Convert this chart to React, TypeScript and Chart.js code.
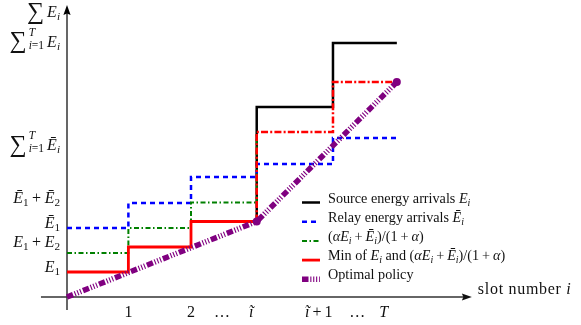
import { useEffect, useRef } from "react";
import { Chart, registerables } from "chart.js";

Chart.register(...registerables);

type Seg = { t: string; it?: boolean; sc?: number; dy?: number; gap?: number; stack?: boolean };

// ---------------- data ----------------
const relaySlots = [0, 0.99, 2, 3.06, 4.29, 5.32];
const relayLevels = [6.9, 9.4, 12.0, 13.3, 15.9, 15.9];
const mixSlots = [0, 0.99, 2, 3.06];
const mixLevels = [4.4, 6.9, 9.45, 16.5];
const minSlots = [0, 0.99, 2, 3.06];
const minLevels = [2.5, 5.0, 7.55, 7.55];
const upperSlots = [3.06, 3.06, 4.29, 5.32];
const sourceLevels = [7.55, 19.0, 25.4, 25.4];
const minUpperLevels = [7.55, 16.5, 21.5, 21.5];
const optimalSlots = [0, 3.06, 5.32];
const optimalLevels = [0, 7.55, 21.5];
const optimalDots = [0, 4, 4];

// ---------------- text helpers ----------------
const subI: Seg = { t: "i", it: true, sc: 0.7, dy: 3 };
const sub1: Seg = { t: "1", sc: 0.7, dy: 3 };
const sub2: Seg = { t: "2", sc: 0.7, dy: 3 };
const sumLimits: Seg[] = [
  { t: "∑", sc: 1.5, dy: 1.5 },
  { t: "T", it: true, sc: 0.72, dy: -11, gap: 2, stack: true },
  { t: "i", it: true, sc: 0.72, dy: 2 },
  { t: "=1", sc: 0.72, dy: 2 },
];

const xTickPos = [0.99, 2, 2.5, 2.97, 4.06, 4.68, 5.11];
const xTickLabels: Seg[][] = [
  [{ t: "1" }],
  [{ t: "2" }],
  [{ t: "…" }],
  [{ t: "ĩ", it: true }],
  [{ t: "ĩ", it: true }, { t: "+", gap: 3 }, { t: "1", gap: 3 }],
  [{ t: "…" }],
  [{ t: "T", it: true }],
];

const yTickPos = [2.5, 5.0, 6.9, 9.4, 14.7, 25.05, 28.0];
const yTickLabels: Seg[][] = [
  [{ t: "E", it: true }, sub1],
  [{ t: "E", it: true }, sub1, { t: "+", gap: 3.5 }, { t: "E", it: true, gap: 3.5 }, sub2],
  [{ t: "Ē", it: true }, sub1],
  [{ t: "Ē", it: true }, sub1, { t: "+", gap: 3.5 }, { t: "Ē", it: true, gap: 3.5 }, sub2],
  [...sumLimits, { t: "Ē", it: true, gap: 3 }, subI],
  [...sumLimits, { t: "E", it: true, gap: 3 }, subI],
  [{ t: "∑", sc: 1.5, dy: 1.5 }, { t: "E", it: true, gap: 3 }, subI],
];

const xAxisTitle: Seg[] = [{ t: "slot number " }, { t: "i", it: true }];

const mixLabel: Seg[] = [
  { t: "(" },
  { t: "αE", it: true },
  subI,
  { t: "+", gap: 3 },
  { t: "Ē", it: true, gap: 3 },
  subI,
  { t: ")/(1" },
  { t: "+", gap: 3 },
  { t: "α", it: true, gap: 3 },
  { t: ")" },
];
const legendLabels: Seg[][] = [
  [{ t: "Source energy arrivals " }, { t: "E", it: true }, subI],
  [{ t: "Relay energy arrivals " }, { t: "Ē", it: true }, subI],
  mixLabel,
  [{ t: "Min of " }, { t: "E", it: true }, subI, { t: " and " }, ...mixLabel],
  [{ t: "Optimal policy" }],
];

const FONT = '"Liberation Serif", "DejaVu Serif", serif';
function fontFor(base: number, s: Seg) {
  return `${s.it ? "italic " : ""}${(base * (s.sc ?? 1)).toFixed(2)}px ${FONT}`;
}
function richWidth(ctx: CanvasRenderingContext2D, segs: Seg[], base: number) {
  let w = 0;
  for (const s of segs) {
    w += s.gap ?? 0;
    ctx.font = fontFor(base, s);
    if (!s.stack) w += ctx.measureText(s.t).width;
  }
  return w;
}
function drawRich(
  ctx: CanvasRenderingContext2D,
  segs: Seg[],
  base: number,
  x: number,
  y: number,
  align: "left" | "right" | "center"
) {
  const w = richWidth(ctx, segs, base);
  let cx = align === "left" ? x : align === "right" ? x - w : x - w / 2;
  ctx.textAlign = "left";
  ctx.textBaseline = "alphabetic";
  for (const s of segs) {
    cx += s.gap ?? 0;
    ctx.font = fontFor(base, s);
    ctx.fillText(s.t, cx, y + (s.dy ?? 0));
    if (!s.stack) cx += ctx.measureText(s.t).width;
  }
}

const pts = (xs: number[], ys: number[]) => xs.map((x, i) => ({ x, y: ys[i] }));

const styles = [
  { color: "#000000", width: 2.5, dash: [] as number[] },
  { color: "#0000ff", width: 2.5, dash: [5, 4] },
  { color: "#008000", width: 2, dash: [5, 2.5, 1.5, 2.5] },
  { color: "#ff0000", width: 2.8, dash: [] as number[] },
  { color: "#800080", width: 5.5, dash: [6.5, 1.8, 1.1, 1.8, 1.1, 1.8, 1.1, 2] },
];
const redDashDot = [7, 2.2, 2, 2.2];

const decorPlugin = {
  id: "decor",
  beforeDatasetsDraw(chart: any) {
    const { ctx, scales } = chart;
    const xs = scales.x, ys = scales.y;
    const x0 = xs.getPixelForValue(0);
    const y0 = ys.getPixelForValue(0);
    const yBottom = ys.getPixelForValue(-1.3);
    const yTop = ys.getPixelForValue(29.2);
    const xLeft = xs.getPixelForValue(-0.42);
    const xRight = xs.getPixelForValue(6.53);
    ctx.save();
    // y axis
    ctx.strokeStyle = "#000";
    ctx.fillStyle = "#000";
    ctx.lineWidth = 1.2;
    ctx.beginPath();
    ctx.moveTo(x0, yBottom);
    ctx.lineTo(x0, yTop + 8);
    ctx.stroke();
    ctx.beginPath();
    ctx.moveTo(x0, yTop);
    ctx.lineTo(x0 - 3.6, yTop + 10);
    ctx.lineTo(x0, yTop + 8.5);
    ctx.lineTo(x0 + 3.6, yTop + 10);
    ctx.closePath();
    ctx.fill();
    // x axis
    ctx.strokeStyle = "#333";
    ctx.fillStyle = "#111";
    ctx.lineWidth = 1.7;
    ctx.beginPath();
    ctx.moveTo(xLeft, y0);
    ctx.lineTo(xRight - 8, y0);
    ctx.stroke();
    ctx.beginPath();
    ctx.moveTo(xRight, y0);
    ctx.lineTo(xRight - 10, y0 - 3.6);
    ctx.lineTo(xRight - 8.5, y0);
    ctx.lineTo(xRight - 10, y0 + 3.6);
    ctx.closePath();
    ctx.fill();
    ctx.restore();
  },
  afterDraw(chart: any) {
    const { ctx, scales } = chart;
    const xs = scales.x, ys = scales.y;
    const x0 = xs.getPixelForValue(0);
    ctx.save();
    ctx.fillStyle = "#111";
    // x tick labels
    xTickPos.forEach((v, i) => {
      drawRich(ctx, xTickLabels[i], 16, xs.getPixelForValue(v), 316.5, "center");
    });
    // y tick labels
    yTickPos.forEach((v, i) => {
      drawRich(ctx, yTickLabels[i], 16, x0 - 7, ys.getPixelForValue(v), "right");
    });
    // x axis title
    (ctx as any).letterSpacing = "0.7px";
    drawRich(ctx, xAxisTitle, 16, xs.getPixelForValue(6.53) + 6, 293.5, "left");
    (ctx as any).letterSpacing = "0px";
    // legend
    const lx0 = 302, lx1 = 320, tx = 328;
    legendLabels.forEach((lab, i) => {
      const by = 202.5 + i * 19.2;
      const st = styles[i];
      ctx.save();
      ctx.strokeStyle = st.color;
      ctx.lineWidth = st.width;
      ctx.setLineDash(st.dash);
      ctx.lineCap = "butt";
      ctx.beginPath();
      ctx.moveTo(lx0, by);
      ctx.lineTo(lx1, by);
      ctx.stroke();
      ctx.restore();
      ctx.fillStyle = "#111";
      drawRich(ctx, lab, 14.2, tx, by, "left");
    });
    ctx.restore();
  },
};

export default function App() {
  const ref = useRef<HTMLCanvasElement>(null);
  useEffect(() => {
    document.body.style.margin = "0";
    const canvas = ref.current!;
    const line = (data: any[], st: any, extra: any = {}) => ({
      data,
      borderColor: st.color,
      backgroundColor: st.color,
      borderWidth: st.width,
      borderDash: st.dash,
      pointRadius: 0,
      fill: false,
      tension: 0,
      clip: false,
      ...extra,
    });
    const chart = new Chart(canvas, {
      type: "line",
      data: {
        datasets: [
          line(pts(upperSlots, sourceLevels), styles[0], { stepped: true, order: 6 }),
          line(pts(relaySlots, relayLevels), styles[1], { stepped: true, order: 5 }),
          line(pts(mixSlots, mixLevels), styles[2], { stepped: true, order: 4 }),
          line(pts(minSlots, minLevels), styles[3], { stepped: true, order: 3 }),
          line(pts(upperSlots, minUpperLevels), { ...styles[3], width: 2.5, dash: redDashDot }, { stepped: true, order: 2 }),
          line(pts(optimalSlots, optimalLevels), styles[4], {
            order: 1,
            pointRadius: optimalDots,
            pointBackgroundColor: "#800080",
            pointBorderWidth: 0,
          }),
        ],
      },
      options: {
        animation: false,
        responsive: false,
        maintainAspectRatio: false,
        devicePixelRatio: 1,
        events: [],
        layout: { padding: 0, autoPadding: false },
        plugins: { legend: { display: false }, tooltip: { enabled: false }, title: { display: false } },
        scales: {
          x: { type: "linear", min: -67 / 62, max: (581 - 67) / 62, display: false },
          y: { type: "linear", min: -2.8, max: 29.7, display: false },
        },
      },
      plugins: [decorPlugin],
    } as any);
    return () => chart.destroy();
  }, []);
  return (
    <div style={{ width: 581, height: 325 }}>
      <canvas ref={ref} width={581} height={325} style={{ display: "block" }} />
    </div>
  );
}
